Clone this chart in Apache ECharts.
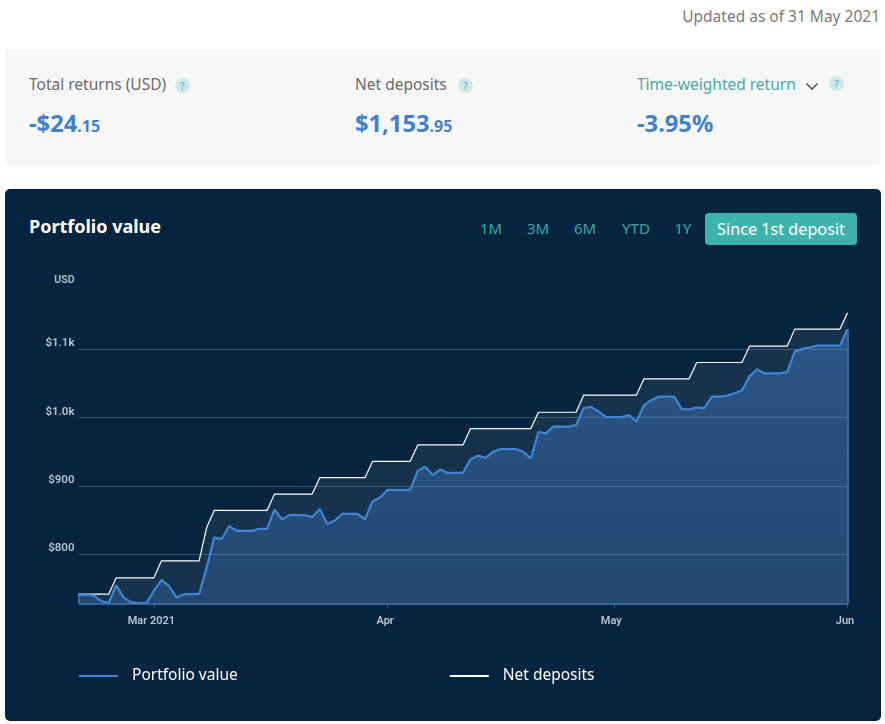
<!DOCTYPE html>
<html>
<head>
<meta charset="utf-8">
<title>Portfolio value</title>
<script src="https://cdn.jsdelivr.net/npm/echarts@6/dist/echarts.min.js"></script>
<style>
  html, body { margin: 0; padding: 0; background: #fff; }
  body { position: relative; width: 885px; height: 724px; overflow: hidden; font-family: "Noto Sans", sans-serif; }
  .abs { position: absolute; white-space: nowrap; }
  #summary { left: 5px; top: 49px; width: 876px; height: 116px; background: #f7f7f7; border-radius: 4px; }
  #panel { left: 5px; top: 189px; width: 876px; height: 532px; background: #062340; border-radius: 5px; }
  #chart { left: 0; top: 0; width: 885px; height: 724px; }
  .label { font-size: 15.5px; color: #6b6b6b; top: 73px; }
  .big { font-size: 23.7px; font-weight: 700; color: #3f7fd4; top: 107px; }
  .big small { font-size: 16px; }
  .help { width: 15px; height: 15px; border-radius: 50%; background: #cfe9e9; color: #4fb0ac; font-size: 11px; text-align: center; line-height: 15px; }
  .range { font-size: 15px; color: #3aa9a6; top: 218px; transform: translateX(-50%); }
  #active { left: 705px; top: 213px; width: 152px; height: 32px; line-height: 32px; text-align: center; background: #3db3ae; color: #fff; border-radius: 4px; font-size: 16.2px; }
</style>
</head>
<body>
<div class="abs" style="right:5px;top:5px;font-size:15.5px;color:#7a7a7a">Updated as of 31 May 2021</div>
<div class="abs" id="summary"></div>
<div class="abs label" style="left:29px">Total returns (USD)</div>
<div class="abs help" style="left:175px;top:78px">?</div>
<div class="abs big" style="left:29px">-$24<small>.15</small></div>
<div class="abs label" style="left:355px">Net deposits</div>
<div class="abs help" style="left:458px;top:78px">?</div>
<div class="abs big" style="left:355px">$1,153<small>.95</small></div>
<div class="abs label" style="left:637px;color:#4aa9a4">Time-weighted return</div>
<svg class="abs" style="left:805px;top:82px" width="14" height="9"><path d="M1.5 1.5 L7 7 L12.5 1.5" fill="none" stroke="#555" stroke-width="1.6"/></svg>
<div class="abs help" style="left:829px;top:76px">?</div>
<div class="abs big" style="left:637px">-3.95%</div>
<div class="abs" id="panel"></div>
<div class="abs" style="left:29px;top:214px;font-size:18px;font-weight:700;color:#fff">Portfolio value</div>
<div class="abs range" style="left:491px">1M</div>
<div class="abs range" style="left:538px">3M</div>
<div class="abs range" style="left:585px">6M</div>
<div class="abs range" style="left:636px">YTD</div>
<div class="abs range" style="left:683px">1Y</div>
<div class="abs" id="active">Since 1st deposit</div>
<div class="abs" id="chart"></div>
<script>
// one value per day, 19 Feb 2021 to 1 Jun 2021
var portfolioValues = [
  740, 740, 739, 731, 728, 754, 736, 729, 728, 728,
  746, 762, 753, 736, 741, 741, 741, 780, 824, 822,
  841, 834, 834, 834, 837, 837, 865, 851, 857, 857,
  857, 854, 866, 844, 849, 859, 859, 859, 851, 877,
  883, 894, 894, 894, 894, 922, 928, 916, 924, 919,
  919, 919, 939, 944, 941, 950, 954, 954, 954, 950,
  940, 979, 977, 987, 987, 987, 989, 1014, 1016, 1009,
  1001, 1001, 1001, 1004, 994, 1018, 1026, 1031, 1031, 1031,
  1013, 1012, 1015, 1014, 1031, 1031, 1032, 1036, 1040, 1061,
  1071, 1065, 1065, 1065, 1067, 1097, 1101, 1103, 1106, 1106,
  1106, 1106, 1129.8
];
var depositValues = [
  741, 741, 741, 741, 741, 765, 765, 765, 765, 765,
  765, 790, 790, 790, 790, 790, 790, 839, 864, 864,
  864, 864, 864, 864, 864, 864, 888, 888, 888, 888,
  888, 888, 912, 912, 912, 912, 912, 912, 912, 936,
  936, 936, 936, 936, 936, 960, 960, 960, 960, 960,
  960, 960, 984, 984, 984, 984, 984, 984, 984, 984,
  984, 1008, 1008, 1008, 1008, 1008, 1008, 1033, 1033, 1033,
  1033, 1033, 1033, 1033, 1033, 1057, 1057, 1057, 1057, 1057,
  1057, 1057, 1081, 1081, 1081, 1081, 1081, 1081, 1081, 1105,
  1105, 1105, 1105, 1105, 1105, 1130, 1130, 1130, 1130, 1130,
  1130, 1130, 1153.95
];
var yTicks = [800, 900, 1000, 1100];
var yTickLabels = ["$800", "$900", "$1.0k", "$1.1k"];
var xTickDates = ["2021-03-01", "2021-04-01", "2021-05-01", "2021-06-01"];
var xTickLabels = ["Mar 2021", "Apr", "May", "Jun"];
var yMin = 727.5;
var yMax = 1172;

var dates = [];
for (var i = 0; i < portfolioValues.length; i++) {
  dates.push(new Date(Date.UTC(2021, 1, 19 + i)).toISOString().slice(0, 10));
}
var isTickDate = function (index, value) {
  return xTickDates.indexOf(value) >= 0;
};
var firstDate = dates[0];
var lastDate = dates[dates.length - 1];

var myChart = echarts.init(document.getElementById("chart"), null, { renderer: "canvas" });
var option = {
  animation: false,
  backgroundColor: "transparent",
  textStyle: { fontFamily: "Roboto" },
  grid: { left: 78.5, right: 37.5, top: 300.5, bottom: 120.6 },
  legend: {
    left: 74,
    top: 663,
    itemWidth: 39,
    itemHeight: 2,
    itemGap: 212,
    icon: "rect",
    textStyle: { color: "#fff", fontSize: 15.5, fontFamily: "Noto Sans", padding: [0, 0, 0, 9] },
    data: ["Portfolio value", "Net deposits"],
  },
  xAxis: {
    type: "category",
    boundaryGap: false,
    data: dates,
    axisLine: { show: false },
    axisTick: { interval: isTickDate, length: 5, lineStyle: { color: "#3a5675" } },
    axisLabel: {
      interval: isTickDate,
      margin: 12,
      color: "#b9c3ce",
      fontSize: 11,
      fontWeight: 600,
      padding: [0, 5, 0, 0],
      showMaxLabel: true,
      hideOverlap: false,
      formatter: function (value) {
        return xTickLabels[xTickDates.indexOf(value)];
      },
    },
  },
  yAxis: {
    type: "value",
    min: yMin,
    max: yMax,
    name: "USD",
    nameGap: 15,
    nameTextStyle: { color: "#b9c3ce", fontSize: 10.5, fontWeight: 600, align: "right", padding: [0, 4, 0, 0] },
    axisLine: { show: false },
    axisTick: { show: false },
    axisLabel: {
      customValues: yTicks,
      margin: 4,
      color: "#b9c3ce",
      fontSize: 11.5,
      fontWeight: 600,
      verticalAlign: "bottom",
      formatter: function (value) {
        return yTickLabels[yTicks.indexOf(value)];
      },
    },
    splitLine: { show: true, showMinLine: false, showMaxLine: false, lineStyle: { color: "#3a5470", width: 1 } },
  },
  series: [
    {
      name: "Net deposits",
      type: "line",
      data: depositValues,
      symbol: "none",
      z: 2,
      itemStyle: { color: "#fff" },
      lineStyle: { color: "#fff", width: 1.2 },
      areaStyle: { color: "rgba(255,255,255,0.1)", origin: "start" },
    },
    {
      name: "Portfolio value",
      type: "line",
      data: portfolioValues,
      symbol: "none",
      z: 3,
      itemStyle: { color: "#3d85d8" },
      lineStyle: { color: "#3d85d8", width: 2.2 },
      areaStyle: {
        origin: "start",
        color: new echarts.graphic.LinearGradient(0, 0, 0, 1, [
          { offset: 0, color: "rgba(70,135,210,0.6)" },
          { offset: 1, color: "rgba(70,135,210,0.38)" },
        ]),
      },
      markLine: {
        silent: true,
        symbol: "none",
        label: { show: false },
        lineStyle: { color: "#4277b4", width: 1.6, type: "solid" },
        data: [
          [{ coord: [firstDate, yMin] }, { coord: [lastDate, yMin] }],
          [{ coord: [firstDate, yMin] }, { coord: [firstDate, portfolioValues[0]] }],
          [{ coord: [lastDate, yMin] }, { coord: [lastDate, portfolioValues[portfolioValues.length - 1]] }],
        ],
      },
    },
  ],
};
myChart.setOption(option);
</script>
</body>
</html>
